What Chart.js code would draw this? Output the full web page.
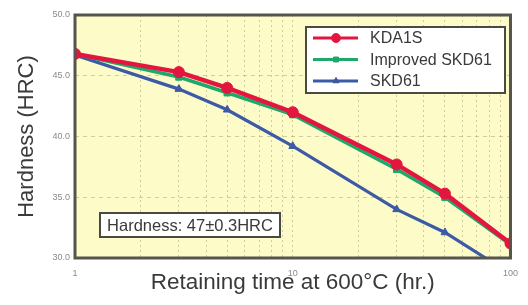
<!DOCTYPE html>
<html>
<head>
<meta charset="utf-8">
<script src="https://cdn.jsdelivr.net/npm/chart.js@4/dist/chart.umd.min.js"></script>
<style>
  html, body { margin: 0; padding: 0; background: #fff; }
  #wrap { width: 528px; height: 305px; }
</style>
</head>
<body>
<div id="wrap"><canvas id="hardChart" width="528" height="305"></canvas></div>
<script>
// retaining time (hr.) at 600°C
const times = [1, 3, 5, 10, 30, 50, 100];
const kda1s = [46.8, 45.3, 44.0, 42.0, 37.7, 35.3, 31.2];
const improvedSkd61 = [46.8, 44.9, 43.6, 41.8, 37.3, 35.0, 31.1];
const skd61 = [46.7, 43.9, 42.2, 39.2, 34.0, 32.1, 28.7];
const xGridTicks = [1, 2, 3, 4, 5, 6, 7, 8, 9, 10, 20, 30, 40, 50, 60, 70, 80, 90, 100];
const xLabelTicks = [1, 10, 100];
const noteText = 'Hardness: 47\u00b10.3HRC';

const FONT = "'Liberation Sans', Arial, sans-serif";

function toPoints(vals) {
    return times.map((t, i) => ({ x: t, y: vals[i] }));
}

// pale yellow plot background
const plotBg = {
    id: 'plotBg',
    beforeDraw(chart) {
        const { ctx, chartArea: a } = chart;
        ctx.save();
        ctx.fillStyle = '#fdfbc8';
        ctx.fillRect(a.left, a.top, a.right - a.left, a.bottom - a.top);
        ctx.restore();
    }
};

// frame, legend box and note box
const overlay = {
    id: 'overlay',
    afterDraw(chart) {
        const { ctx, chartArea: a } = chart;
        ctx.save();

        // frame
        ctx.strokeStyle = '#55554d';
        ctx.lineWidth = 3;
        ctx.strokeRect(a.left, a.top, a.right - a.left, a.bottom - a.top);

        // legend
        const lx = 306, ly = 27, lw = 199, lh = 66;
        ctx.fillStyle = '#ffffff';
        ctx.fillRect(lx, ly, lw, lh);
        ctx.strokeStyle = '#4a4a44';
        ctx.lineWidth = 2;
        ctx.strokeRect(lx, ly, lw, lh);
        ctx.font = '16px ' + FONT;
        ctx.textBaseline = 'middle';
        chart.data.datasets.forEach((ds, i) => {
            const y = ly + 11 + i * 21.5;
            ctx.strokeStyle = ds.borderColor;
            ctx.lineWidth = 3;
            ctx.beginPath();
            ctx.moveTo(lx + 7, y);
            ctx.lineTo(lx + 52, y);
            ctx.stroke();
            ctx.lineWidth = 1;
            Chart.helpers.drawPoint(ctx, {
                pointStyle: ds.pointStyle,
                radius: ds.pointRadius - 1,
                borderWidth: 1
            }, lx + 30, y);
            ctx.fillStyle = ds.borderColor;
            ctx.fill();
            ctx.fillStyle = '#3a3a3a';
            ctx.fillText(ds.label, lx + 64, y + 1);
        });

        // note box
        const nx = a.left + 25, ny = 213, nw = 180, nh = 24;
        ctx.fillStyle = '#ffffff';
        ctx.fillRect(nx, ny, nw, nh);
        ctx.strokeStyle = '#4a4a44';
        ctx.lineWidth = 2;
        ctx.strokeRect(nx, ny, nw, nh);
        ctx.fillStyle = '#3a3a3a';
        ctx.font = '16.5px ' + FONT;
        ctx.textAlign = 'center';
        ctx.fillText(noteText, nx + nw / 2, ny + nh / 2 + 1);

        ctx.restore();
    }
};

const ctx = document.getElementById('hardChart').getContext('2d');
new Chart(ctx, {
    type: 'line',
    data: {
        datasets: [{
            label: 'KDA1S',
            data: toPoints(kda1s),
            borderColor: '#e3163f',
            backgroundColor: '#e3163f',
            borderWidth: 4.5,
            pointStyle: 'circle',
            pointRadius: 5.5,
            pointBorderWidth: 1
        }, {
            label: 'Improved SKD61',
            data: toPoints(improvedSkd61),
            borderColor: '#1ea86a',
            backgroundColor: '#1ea86a',
            borderWidth: 3.5,
            pointStyle: 'rect',
            pointRadius: 4.5,
            pointBorderWidth: 1
        }, {
            label: 'SKD61',
            data: toPoints(skd61),
            borderColor: '#3d5aa6',
            backgroundColor: '#3d5aa6',
            borderWidth: 3.2,
            pointStyle: 'triangle',
            pointRadius: 4.5,
            pointBorderWidth: 1
        }]
    },
    options: {
        responsive: false,
        animation: false,
        layout: { padding: { left: 0, right: 13, top: 15, bottom: 0 } },
        plugins: {
            legend: { display: false },
            tooltip: { enabled: false }
        },
        scales: {
            x: {
                type: 'logarithmic',
                min: 1,
                max: 100,
                afterBuildTicks: (scale) => {
                    scale.ticks = xGridTicks.map(v => ({ value: v }));
                },
                afterFit: (scale) => { scale.height = 47; },
                grid: {
                    color: 'rgba(140, 135, 95, 0.4)',
                    lineWidth: 1,
                    drawTicks: false
                },
                border: { display: false, dash: [2, 3] },
                ticks: {
                    autoSkip: false,
                    maxRotation: 0,
                    padding: 10,
                    color: '#8a8a8a',
                    font: { family: FONT, size: 9 },
                    callback: (v) => xLabelTicks.includes(v) ? String(v) : ''
                },
                title: {
                    display: true,
                    text: 'Retaining time at 600\u00b0C (hr.)',
                    color: '#3a3a3a',
                    font: { family: FONT, size: 22.5 },
                    padding: { top: 0, bottom: 9 }
                }
            },
            y: {
                min: 30,
                max: 50,
                afterFit: (scale) => { scale.width = 75; },
                grid: {
                    color: 'rgba(140, 135, 95, 0.4)',
                    lineWidth: 1,
                    drawTicks: false
                },
                border: { display: false, dash: [4, 4] },
                ticks: {
                    stepSize: 5,
                    padding: 5,
                    color: '#8a8a8a',
                    font: { family: FONT, size: 9 },
                    callback: (v) => v.toFixed(1)
                },
                title: {
                    display: true,
                    text: 'Hardness (HRC)',
                    color: '#3a3a3a',
                    font: { family: FONT, size: 22 },
                    padding: { top: 14, bottom: 0 }
                }
            }
        }
    },
    plugins: [plotBg, overlay]
});
</script>
</body>
</html>
